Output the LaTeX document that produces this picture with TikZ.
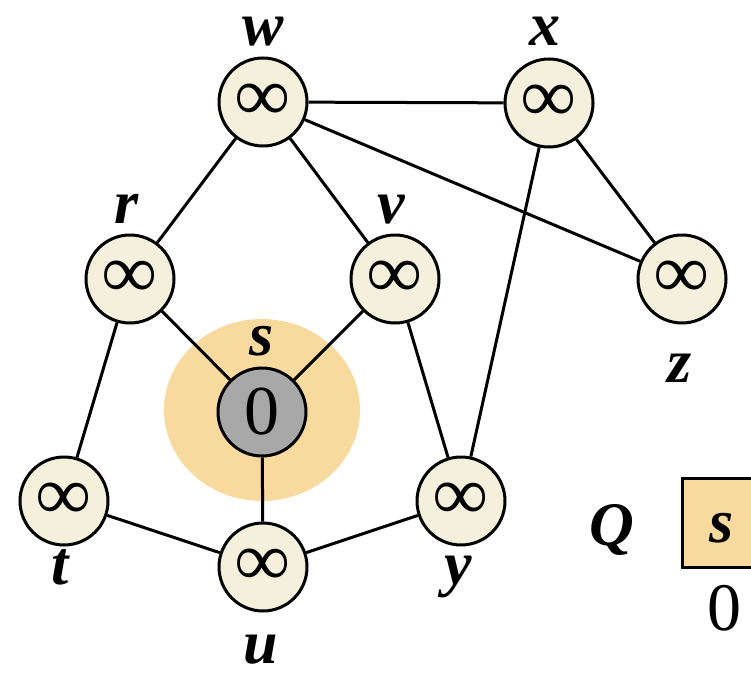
\documentclass[tikz,border=0pt]{standalone}
\usepackage{fontspec}
\setmainfont{Liberation Serif}
\definecolor{nodefill}{HTML}{F4F0DC}
\definecolor{srcfill}{HTML}{A8A8A8}
\definecolor{glow}{HTML}{F8D99E}
\begin{document}
\begin{tikzpicture}[x=1pt,y=-1pt,
  vtx/.style={circle,draw=black,line width=3pt,fill=nodefill,minimum size=88pt,inner sep=0pt,
    font=\fontsize{76}{76}\selectfont\bfseries},
  src/.style={vtx,fill=srcfill,font=\fontsize{70}{70}\selectfont},
  edge/.style={line width=3pt},
  lbl/.style={anchor=base,inner sep=0pt,text height=0.45em,text depth=0.2em,
    font=\fontsize{62}{62}\selectfont\bfseries\itshape},
  num/.style={anchor=base,inner sep=0pt,font=\fontsize{68}{68}\selectfont}]
\useasboundingbox (0,0) rectangle (751,690);
\fill[glow] (262,410) ellipse [x radius=98pt, y radius=91pt];
\node[vtx] (w) at (263,102) {∞};
\node[vtx] (x) at (549,103) {∞};
\node[vtx] (r) at (130,279) {∞};
\node[vtx] (v) at (395,279) {∞};
\node[vtx] (z) at (682,279) {∞};
\node[vtx] (t) at (64,501) {∞};
\node[vtx] (y) at (461,501) {∞};
\node[vtx] (u) at (263,567) {∞};
\node[src] (s) at (262,412) {0};
\draw[edge] (w) -- (x);
\draw[edge] (w) -- (r);
\draw[edge] (w) -- (v);
\draw[edge] (w) -- (z);
\draw[edge] (x) -- (z);
\draw[edge] (x) -- (y);
\draw[edge] (r) -- (s);
\draw[edge] (v) -- (s);
\draw[edge] (r) -- (t);
\draw[edge] (v) -- (y);
\draw[edge] (s) -- (u);
\draw[edge] (t) -- (u);
\draw[edge] (u) -- (y);
\node[lbl] (lw) at (263,46) {w};
\node[lbl] (lx) at (545,46) {x};
\node[lbl] (lr) at (127,223) {r};
\node[lbl] (lv) at (391,223) {v};
\node[lbl] (ls) at (262,355) {s};
\node[lbl] (lz) at (680,382) {z};
\node[lbl] (lt) at (60,584) {t};
\node[lbl] (ly) at (458,584) {y};
\node[lbl] (lu) at (261,663) {u};
\node[lbl] (lq) at (612,545) {Q};
\draw[line width=3pt,fill=glow] (682,478) rectangle (790,567);
\node[lbl] (qs) at (722,542) {s};
\node[num] (q0) at (724,630) {0};
\end{tikzpicture}
\end{document}
